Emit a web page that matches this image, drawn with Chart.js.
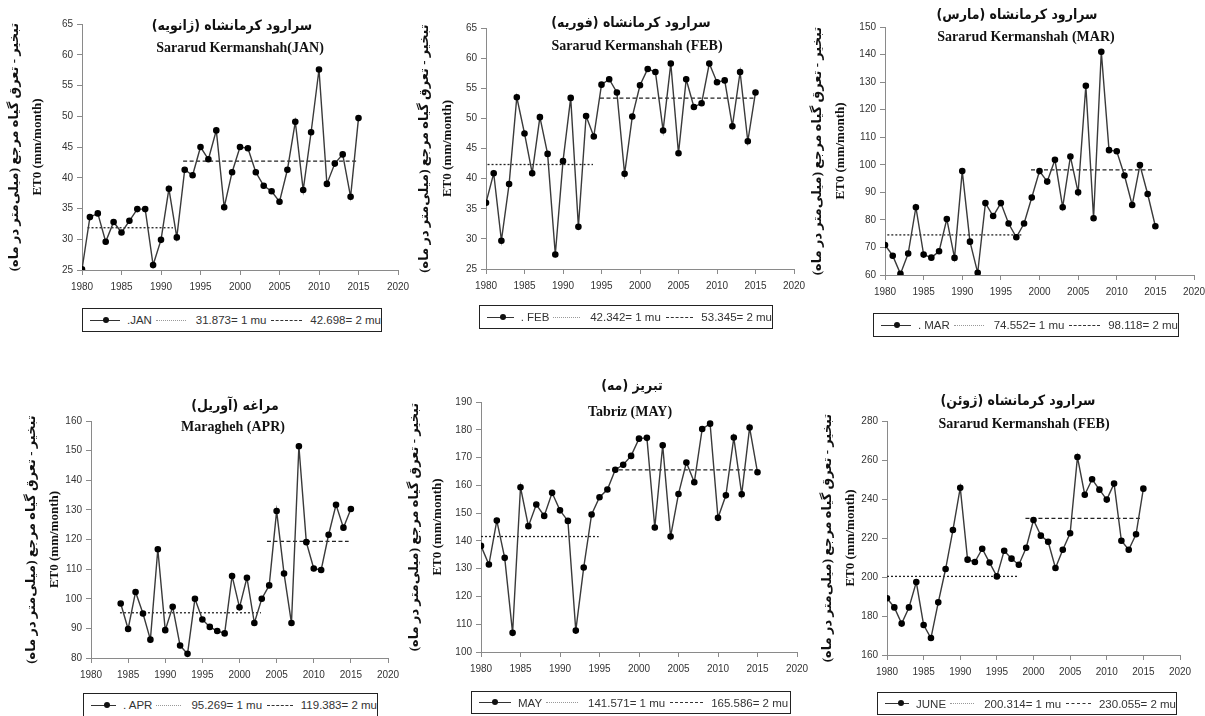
<!DOCTYPE html>
<html>
<head>
<meta charset="utf-8">
<script src="https://cdn.jsdelivr.net/npm/chart.js@4.4.0/dist/chart.umd.min.js"></script>
<style>
    body { margin: 0; width: 1205px; height: 716px; overflow: hidden; background: #fff; position: relative; font-family: 'Liberation Sans', Arial, sans-serif; }
    canvas { position: absolute; }
    .title-fa, .title-en { position: absolute; transform: translate(-50%, -50%); white-space: nowrap; color: #111; }
    .title-fa { font: bold 14px 'DejaVu Sans Condensed', 'DejaVu Sans', sans-serif; }
    .title-en { font: bold 14px 'Liberation Serif', serif; }
    .legend { position: absolute; box-sizing: border-box; border: 1px solid #222; display: flex; align-items: center; padding-left: 7px; font-size: 11.5px; color: #333; white-space: nowrap; }
    .s-line { position: relative; width: 32px; border-top: 1.5px solid #333; margin-right: 7px; }
    .s-line::after { content: ''; position: absolute; left: 13px; top: -4px; width: 6px; height: 6px; border-radius: 50%; background: #111; }
    .s-dot { width: 32px; border-top: 1px dotted #999; margin: 0 10px 0 4px; }
    .s-dash { width: 33px; border-top: 1px dashed #333; margin: 0 8px 0 5px; }
</style>
</head>
<body>
<script>
// Годы наблюдений
const yearsFull = [1980, 1981, 1982, 1983, 1984, 1985, 1986, 1987, 1988, 1989, 1990, 1991,
    1992, 1993, 1994, 1995, 1996, 1997, 1998, 1999, 2000, 2001, 2002, 2003,
    2004, 2005, 2006, 2007, 2008, 2009, 2010, 2011, 2012, 2013, 2014, 2015];
const yearsApr = [1984, 1985, 1986, 1987, 1988, 1989, 1990, 1991, 1992, 1993, 1994, 1995,
    1996, 1997, 1998, 1999, 2000, 2001, 2002, 2003, 2004, 2005, 2006, 2007,
    2008, 2009, 2010, 2011, 2012, 2013, 2014, 2015];
const xTicks = [1980, 1985, 1990, 1995, 2000, 2005, 2010, 2015, 2020];

// ET0 по месяцам (мм/месяц)
const janValues = [25.1, 33.6, 34.2, 29.6, 32.8, 31.1, 33.0, 34.9, 34.9, 25.8, 29.9, 38.2,
    30.3, 41.3, 40.4, 45.0, 43.0, 47.7, 35.2, 40.9, 45.0, 44.8, 40.9, 38.7,
    37.8, 36.1, 41.3, 49.1, 38.0, 47.4, 57.6, 39.0, 42.3, 43.8, 36.9, 49.7];
const febValues = [36.0, 40.9, 29.7, 39.1, 53.5, 47.5, 40.9, 50.2, 44.1, 27.4, 42.9, 53.4,
    32.0, 50.4, 47.0, 55.6, 56.5, 54.3, 40.8, 50.3, 55.5, 58.2, 57.7, 48.0,
    59.1, 44.2, 56.5, 51.9, 52.5, 59.1, 56.0, 56.3, 48.7, 57.7, 46.2, 54.3];
const marValues = [70.9, 67.0, 60.4, 67.8, 84.6, 67.4, 66.3, 68.6, 80.3, 66.2, 97.7, 72.1,
    60.8, 86.1, 81.4, 86.1, 78.7, 73.7, 78.7, 88.1, 97.7, 93.9, 101.8, 84.6,
    103.0, 90.0, 128.7, 80.6, 141.0, 105.3, 104.9, 96.1, 85.4, 99.9, 89.4, 77.7];
const aprValues = [98.4, 89.8, 102.3, 95.0, 86.2, 116.7, 89.4, 97.3, 84.2, 81.4, 100.0, 93.0,
    90.5, 89.1, 88.3, 107.7, 97.1, 107.1, 91.8, 100.0, 104.5, 129.6, 108.5, 91.8,
    151.5, 119.1, 110.2, 109.7, 121.6, 131.7, 124.0, 130.3];
const mayValues = [138.2, 131.5, 147.3, 133.9, 106.9, 159.3, 145.3, 153.1, 149.0, 157.3, 151.0, 147.2,
    107.7, 130.4, 149.5, 155.7, 158.5, 165.6, 167.4, 170.6, 176.8, 177.1, 144.8, 174.4,
    141.6, 156.9, 168.2, 161.1, 180.3, 182.2, 148.3, 156.4, 177.2, 156.8, 180.8, 164.7];
const junValues = [189.1, 184.4, 176.1, 184.4, 197.4, 175.4, 168.7, 187.0, 204.1, 224.1, 245.8, 208.9,
    207.7, 214.5, 207.4, 200.3, 213.5, 209.4, 206.3, 215.0, 229.2, 221.2, 218.1, 204.6,
    214.0, 222.4, 261.5, 242.2, 250.1, 244.8, 239.7, 247.9, 218.6, 214.0, 221.9, 245.3];

// Средние до и после точки перелома (mu1, mu2) и годы, на которых они показаны
const janMeans = [31.873, 42.698];
const febMeans = [42.342, 53.345];
const marMeans = [74.552, 98.118];
const aprMeans = [95.269, 119.383];
const mayMeans = [141.571, 165.586];
const junMeans = [200.314, 230.055];
const janSpans = [[1980.7, 1991.5], [1992.8, 2015.0]];
const febSpans = [[1980.2, 1993.9], [1994.8, 2014.8]];
const marSpans = [[1980.3, 1997.8], [1998.9, 2014.8]];
const aprSpans = [[1983.9, 2002.9], [2003.7, 2014.7]];
const maySpans = [[1980.0, 1994.9], [1995.8, 2014.9]];
const junSpans = [[1980.0, 1997.9], [1998.9, 2014.8]];

// Деления оси Y
const janTicks = [25, 30, 35, 40, 45, 50, 55, 60, 65];
const febTicks = [25, 30, 35, 40, 45, 50, 55, 60, 65];
const marTicks = [60, 70, 80, 90, 100, 110, 120, 130, 140, 150];
const aprTicks = [80, 90, 100, 110, 120, 130, 140, 150, 160];
const mayTicks = [100, 110, 120, 130, 140, 150, 160, 170, 180, 190];
const junTicks = [160, 180, 200, 220, 240, 260, 280];

const yTitleFa = '\u200Fتبخیر - تعرق گیاه مرجع (میلی‌متر در ماه)\u200F';
const yTitleEn = 'ET0 (mm/month)';

// Расположение панелей на странице
const panels = [
    { left: 0, top: 0, plot: { left: 82, right: 398, top: 24, bottom: 270 }, yTitleX: 15,
      years: yearsFull, values: janValues, means: janMeans, spans: janSpans, ticks: janTicks, label: '.JAN',
      titleFa: 'سرارود کرمانشاه (ژانویه)', titleEn: 'Sararud Kermanshah(JAN)', faPos: [232, 25], enPos: [240, 48],
      legend: [82, 308, 300, 24] },
    { left: 400, top: 0, plot: { left: 486, right: 794, top: 28, bottom: 269 }, yTitleX: 425,
      years: yearsFull, values: febValues, means: febMeans, spans: febSpans, ticks: febTicks, label: '. FEB',
      titleFa: 'سرارود کرمانشاه (فوریه)', titleEn: 'Sararud Kermanshah  (FEB)', faPos: [631, 22], enPos: [637, 46],
      legend: [479, 305, 294, 24] },
    { left: 800, top: 0, plot: { left: 885, right: 1194, top: 27, bottom: 275 }, yTitleX: 818,
      years: yearsFull, values: marValues, means: marMeans, spans: marSpans, ticks: marTicks, label: '. MAR',
      titleFa: 'سرارود کرمانشاه (مارس)', titleEn: 'Sararud Kermanshah (MAR)', faPos: [1017, 14], enPos: [1026, 37],
      legend: [873, 313, 306, 24] },
    { left: 0, top: 370, plot: { left: 91, right: 388, top: 421, bottom: 658 }, yTitleX: 32,
      years: yearsApr, values: aprValues, means: aprMeans, spans: aprSpans, ticks: aprTicks, label: '. APR',
      titleFa: 'مراغه (آوریل)', titleEn: 'Maragheh (APR)', faPos: [235, 405], enPos: [233, 427],
      legend: [83, 693, 295, 24] },
    { left: 400, top: 370, plot: { left: 481, right: 797, top: 402, bottom: 652 }, yTitleX: 415,
      years: yearsFull, values: mayValues, means: mayMeans, spans: maySpans, ticks: mayTicks, label: 'MAY',
      titleFa: 'تبریز (مه)', titleEn: 'Tabriz (MAY)', faPos: [632, 385], enPos: [630, 412],
      legend: [471, 691, 320, 23] },
    { left: 800, top: 370, plot: { left: 887, right: 1180, top: 421, bottom: 655 }, yTitleX: 828,
      years: yearsFull, values: junValues, means: junMeans, spans: junSpans, ticks: junTicks, label: 'JUNE',
      titleFa: 'سرارود کرمانشاه (ژوئن)', titleEn: 'Sararud Kermanshah  (FEB)', faPos: [1018, 400], enPos: [1024, 424],
      legend: [877, 692, 300, 23] }
];

panels.forEach(renderPanel);

function meanLine(span, mu) {
    return [{ x: span[0], y: mu }, { x: span[1], y: mu }];
}

function addText(cls, text, pos, rtl) {
    const div = document.createElement('div');
    div.className = cls;
    if (rtl) div.dir = 'rtl';
    div.textContent = text;
    div.style.left = pos[0] + 'px';
    div.style.top = pos[1] + 'px';
    document.body.appendChild(div);
}

function addLegend(p) {
    const box = document.createElement('div');
    box.className = 'legend';
    box.style.left = p.legend[0] + 'px';
    box.style.top = p.legend[1] + 'px';
    box.style.width = p.legend[2] + 'px';
    box.style.height = p.legend[3] + 'px';
    box.innerHTML = '<span class="s-line"></span><span>' + p.label + '</span>' +
        '<span class="s-dot"></span><span>' + p.means[0].toFixed(3) + '= 1 mu</span>' +
        '<span class="s-dash"></span><span>' + p.means[1].toFixed(3) + '= 2 mu</span>';
    document.body.appendChild(box);
}

function renderPanel(p) {
    const canvas = document.createElement('canvas');
    const padRight = 30;
    const xAxisHeight = 30;
    canvas.width = p.plot.right - p.left + padRight;
    canvas.height = p.plot.bottom - p.top + xAxisHeight;
    canvas.style.left = p.left + 'px';
    canvas.style.top = p.top + 'px';
    document.body.appendChild(canvas);

    const axisColor = '#8a8a8a';
    const tickFont = { family: "'Liberation Sans', Arial, sans-serif", size: 10 };

    new Chart(canvas, {
        type: 'line',
        data: {
            datasets: [
                {
                    label: p.label,
                    data: p.years.map((yr, i) => ({ x: yr, y: p.values[i] })),
                    borderColor: '#3a3a3a',
                    borderWidth: 1.4,
                    pointRadius: 2.6,
                    pointBackgroundColor: '#000',
                    pointBorderColor: '#000',
                    tension: 0
                },
                {
                    label: '1 mu',
                    data: meanLine(p.spans[0], p.means[0]),
                    borderColor: '#222',
                    borderWidth: 1.3,
                    borderDash: [2, 2],
                    pointRadius: 0
                },
                {
                    label: '2 mu',
                    data: meanLine(p.spans[1], p.means[1]),
                    borderColor: '#222',
                    borderWidth: 1.3,
                    borderDash: [4, 2.5],
                    pointRadius: 0
                }
            ]
        },
        options: {
            responsive: false,
            animation: false,
            layout: { padding: { left: 0, top: p.plot.top - p.top, right: padRight, bottom: 0 } },
            plugins: { legend: { display: false }, tooltip: { enabled: false } },
            scales: {
                x: {
                    type: 'linear',
                    min: xTicks[0],
                    max: xTicks[xTicks.length - 1],
                    afterBuildTicks: s => { s.ticks = xTicks.map(v => ({ value: v })); },
                    afterFit: s => { s.height = xAxisHeight; },
                    ticks: { color: '#333', font: tickFont, padding: 6, maxRotation: 0, callback: v => String(v) },
                    grid: { drawOnChartArea: false, tickLength: 5, color: axisColor },
                    border: { color: axisColor }
                },
                y: {
                    min: p.ticks[0],
                    max: p.ticks[p.ticks.length - 1],
                    afterBuildTicks: s => { s.ticks = p.ticks.map(v => ({ value: v })); },
                    afterFit: s => { s.width = p.plot.left - p.left; },
                    ticks: { color: '#333', font: tickFont, padding: 4, callback: v => String(v) },
                    grid: { drawOnChartArea: false, tickLength: 5, color: axisColor },
                    border: { color: axisColor },
                    title: {
                        display: true,
                        text: [yTitleFa, yTitleEn],
                        color: '#111',
                        font: { family: "'Liberation Serif', 'DejaVu Sans', serif", size: 13, weight: 'bold', lineHeight: 1.77 },
                        padding: { top: p.yTitleX - p.left - 11.5, bottom: 0 }
                    }
                }
            }
        }
    });

    addText('title-fa', p.titleFa, p.faPos, true);
    addText('title-en', p.titleEn, p.enPos, false);
    addLegend(p);
}
</script>
</body>
</html>
